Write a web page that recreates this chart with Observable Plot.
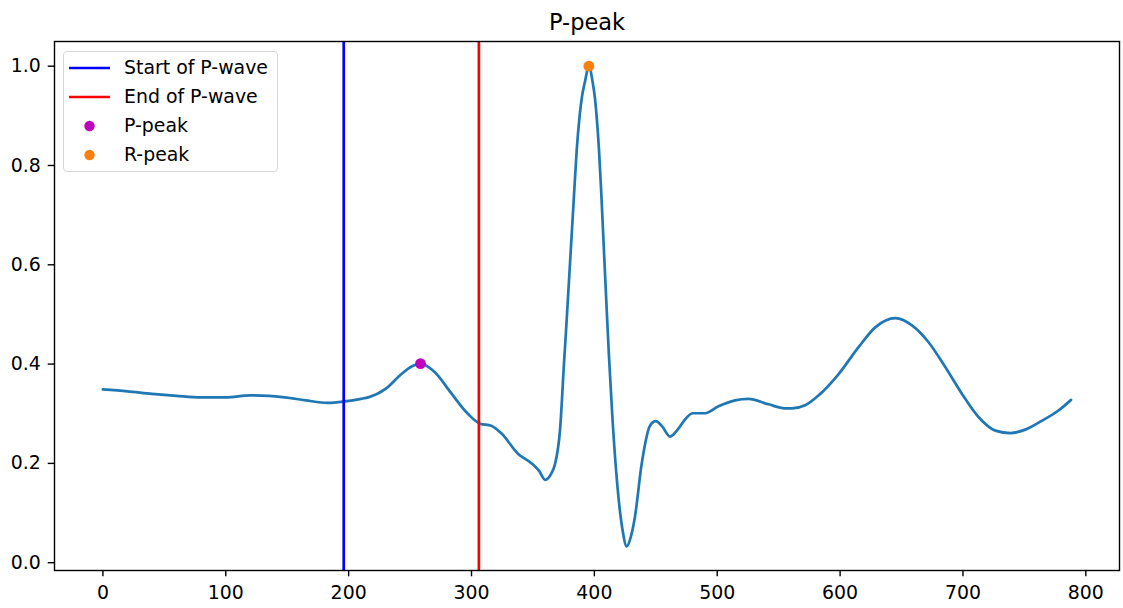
<!DOCTYPE html>
<html>
<head>
<meta charset="utf-8">
<script src="https://cdn.jsdelivr.net/npm/d3@7"></script>
<script src="https://cdn.jsdelivr.net/npm/@observablehq/plot@0.6"></script>
<style>
  html, body { margin: 0; padding: 0; background: #fff; }
  #wrap { position: relative; width: 1123px; height: 608px; font-family: "DejaVu Sans", sans-serif; }
  #legend { position: absolute; left: 63px; top: 51px; width: 213px; height: 119px;
    border: 1px solid #d6d6d6; border-radius: 4px; background: rgba(255,255,255,0.8); }
  .item { position: absolute; left: 0; height: 20px; font-size: 18.9px; color: #000; line-height: 20px; }
  .item svg { position: absolute; left: 5px; top: 0; }
  .item span { position: absolute; left: 60px; top: -1px; white-space: nowrap; }
</style>
</head>
<body>
<div id="wrap"></div>
<script>
// ECG segment samples (sample index, normalized amplitude)
const sampleX = [0, 20, 40, 60, 80, 100, 120, 135, 148, 165, 183, 197, 210, 216, 230, 243, 252, 258.5, 270, 283, 297, 307, 316, 324.5, 338, 349, 355, 360, 365, 368, 372, 375.5, 377, 380.1, 383.3, 385.6, 388, 390, 392.3, 395.5, 398.6, 400.5, 401.9, 403.8, 405.6, 408.1, 410.8, 412, 414.5, 419.6, 423, 426.3, 430, 433, 438.5, 445.3, 450, 455, 461.6, 468.4, 475, 480, 490, 501, 514.5, 525.4, 541.7, 555, 561, 571.5, 582.5, 598.8, 615, 628.6, 645, 658.5, 672, 685.6, 699.2, 712.8, 726.4, 738.6, 750.8, 764.4, 778, 788];
const sampleY = [0.349, 0.345, 0.340, 0.336, 0.333, 0.333, 0.337, 0.336, 0.333, 0.327, 0.322, 0.325, 0.330, 0.333, 0.350, 0.380, 0.396, 0.401, 0.384, 0.343, 0.300, 0.280, 0.276, 0.260, 0.219, 0.200, 0.185, 0.167, 0.180, 0.199, 0.266, 0.411, 0.470, 0.600, 0.735, 0.830, 0.900, 0.940, 0.968, 1.000, 0.968, 0.935, 0.897, 0.830, 0.745, 0.612, 0.470, 0.411, 0.300, 0.132, 0.065, 0.033, 0.055, 0.092, 0.199, 0.276, 0.285, 0.275, 0.254, 0.270, 0.292, 0.301, 0.301, 0.315, 0.327, 0.330, 0.319, 0.311, 0.311, 0.317, 0.337, 0.380, 0.434, 0.474, 0.4925, 0.478, 0.444, 0.394, 0.340, 0.293, 0.266, 0.261, 0.268, 0.286, 0.307, 0.328];
const pWaveStart = [196];
const pWaveEnd = [306];
const pPeakX = [258.5], pPeakY = [0.401];
const rPeakX = [395.5], rPeakY = [1.0];
const xTicks = [0, 100, 200, 300, 400, 500, 600, 700, 800];
const yTicks = [0.0, 0.2, 0.4, 0.6, 0.8, 1.0];
const titleText = ["P-peak"];
const legendLabels = ["Start of P-wave", "End of P-wave", "P-peak", "R-peak"];

const ecg = sampleX.map((x, i) => ({x, y: sampleY[i]}));
const pPeak = pPeakX.map((x, i) => ({x, y: pPeakY[i]}));
const rPeak = rPeakX.map((x, i) => ({x, y: rPeakY[i]}));

const chart = Plot.plot({
  width: 1123,
  height: 608,
  marginTop: 41,
  marginBottom: 38,
  marginLeft: 54,
  marginRight: 4,
  style: {fontFamily: "DejaVu Sans, sans-serif", fontSize: "18.9px", color: "#000", background: "#fff"},
  x: {domain: [-39.4, 827.4]},
  y: {domain: [-0.0157, 1.0497]},
  marks: [
    Plot.line(ecg, {x: "x", y: "y", stroke: "#1f77b4", strokeWidth: 2.7, curve: "monotone-x"}),
    Plot.ruleX(pWaveStart, {stroke: "#0000ff", strokeWidth: 2.7}),
    Plot.ruleX(pWaveEnd, {stroke: "#ff0000", strokeWidth: 2.7}),
    Plot.dot(pPeak, {x: "x", y: "y", r: 5.4, fill: "#bf00bf"}),
    Plot.dot(rPeak, {x: "x", y: "y", r: 5.4, fill: "#ff7f0e"}),
    Plot.frame({stroke: "#000", strokeWidth: 1.4}),
    Plot.axisX({ticks: xTicks, tickSize: 6.3, tickPadding: 8.5, strokeWidth: 1.4, fontSize: 18.9, label: null, tickFormat: d3.format("d")}),
    Plot.axisY({ticks: yTicks, tickSize: 6.3, tickPadding: 7.5, strokeWidth: 1.4, fontSize: 18.9, label: null, tickFormat: d3.format(".1f")}),
    Plot.text(titleText, {frameAnchor: "top", text: d => d, dy: -12, lineAnchor: "bottom", fontSize: 22.5, fill: "#000"})
  ]
});

const wrap = document.getElementById("wrap");
wrap.appendChild(chart);

// legend (matplotlib-style box)
const legend = document.createElement("div");
legend.id = "legend";
const swatches = [
  {type: "line", color: "#0000ff"},
  {type: "line", color: "#ff0000"},
  {type: "dot", color: "#bf00bf"},
  {type: "dot", color: "#ff7f0e"}
];
legendLabels.forEach((lab, i) => {
  const it = document.createElement("div");
  it.className = "item";
  it.style.top = (5.7 + i * 29.2) + "px";
  const sw = swatches[i];
  const g = sw.type === "line"
    ? `<line x1="0" x2="41" y1="10" y2="10" stroke="${sw.color}" stroke-width="2.7"/>`
    : `<circle cx="20.5" cy="10" r="5.2" fill="${sw.color}"/>`;
  it.innerHTML = `<svg width="42" height="20">${g}</svg><span>${lab}</span>`;
  legend.appendChild(it);
});
wrap.appendChild(legend);
</script>
</body>
</html>
